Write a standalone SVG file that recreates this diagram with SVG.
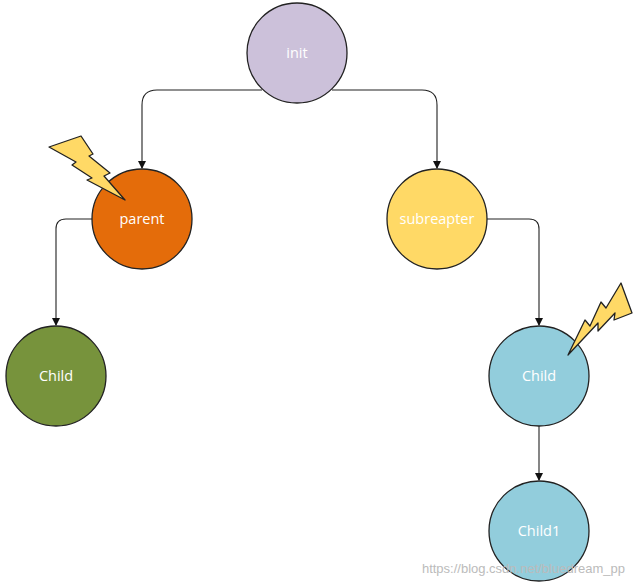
<svg xmlns="http://www.w3.org/2000/svg" width="635" height="586" viewBox="0 0 635 586">
<style>
.n{stroke:#222;stroke-width:1.3}
.t{font-family:"Open Sans","Liberation Sans",sans-serif;font-size:14.5px;fill:#fff;text-anchor:middle}
.c{fill:none;stroke:#222;stroke-width:1.1}
.b{fill:#ffd966;stroke:#222;stroke-width:1.3;stroke-linejoin:round}
</style>
<defs><marker id="a" markerWidth="8" markerHeight="8" refX="7" refY="4" orient="auto" markerUnits="userSpaceOnUse"><path d="M0,0L8,4L0,8z" fill="#111"/></marker></defs>
<rect width="635" height="586" fill="#fff"/>
<g id="connectors">
<path class="c" d="M262,90H157Q142,90 142,105V168" marker-end="url(#a)"/>
<path class="c" d="M332,90H422Q437,90 437,105V168" marker-end="url(#a)"/>
<path class="c" d="M92,219H66Q56,219 56,229V325" marker-end="url(#a)"/>
<path class="c" d="M487,219H529Q539,219 539,229V325" marker-end="url(#a)"/>
<path class="c" d="M539,426V480" marker-end="url(#a)"/>
</g>
<g id="init"><circle class="n" cx="297" cy="53" r="50" fill="#ccc1da" stroke="#7a8a3a"/><text class="t" x="297" y="58">init</text></g>
<g id="parent"><circle class="n" cx="142" cy="219" r="50" fill="#e46c0a"/><text class="t" x="142" y="224">parent</text></g>
<g id="subreapter"><circle class="n" cx="437" cy="219" r="50" fill="#ffd966"/><text class="t" x="437" y="224">subreapter</text></g>
<g id="child-left"><circle class="n" cx="56" cy="376" r="50" fill="#77933c"/><text class="t" x="56" y="381">Child</text></g>
<g id="child-right"><circle class="n" cx="539" cy="376" r="50" fill="#92cddc"/><text class="t" x="539" y="381">Child</text></g>
<g id="child1"><circle class="n" cx="539" cy="531" r="50" fill="#92cddc"/><text class="t" x="539" y="536">Child1</text></g>
<polygon class="b" points="49,147 81,136 93,154 89,156 110,173 104,176 125,200 87,180 92,178 72,165 76,162"/>
<polygon class="b" points="568,355 585,320 590,326 601,302 606,308 621,283 632,313 614,320 615,313 598,331 598,323"/>
<text x="625" y="573" font-family="Liberation Sans,sans-serif" font-size="13" fill="#bbb" text-anchor="end">https://blog.csdn.net/bluedream_pp</text>
</svg>
